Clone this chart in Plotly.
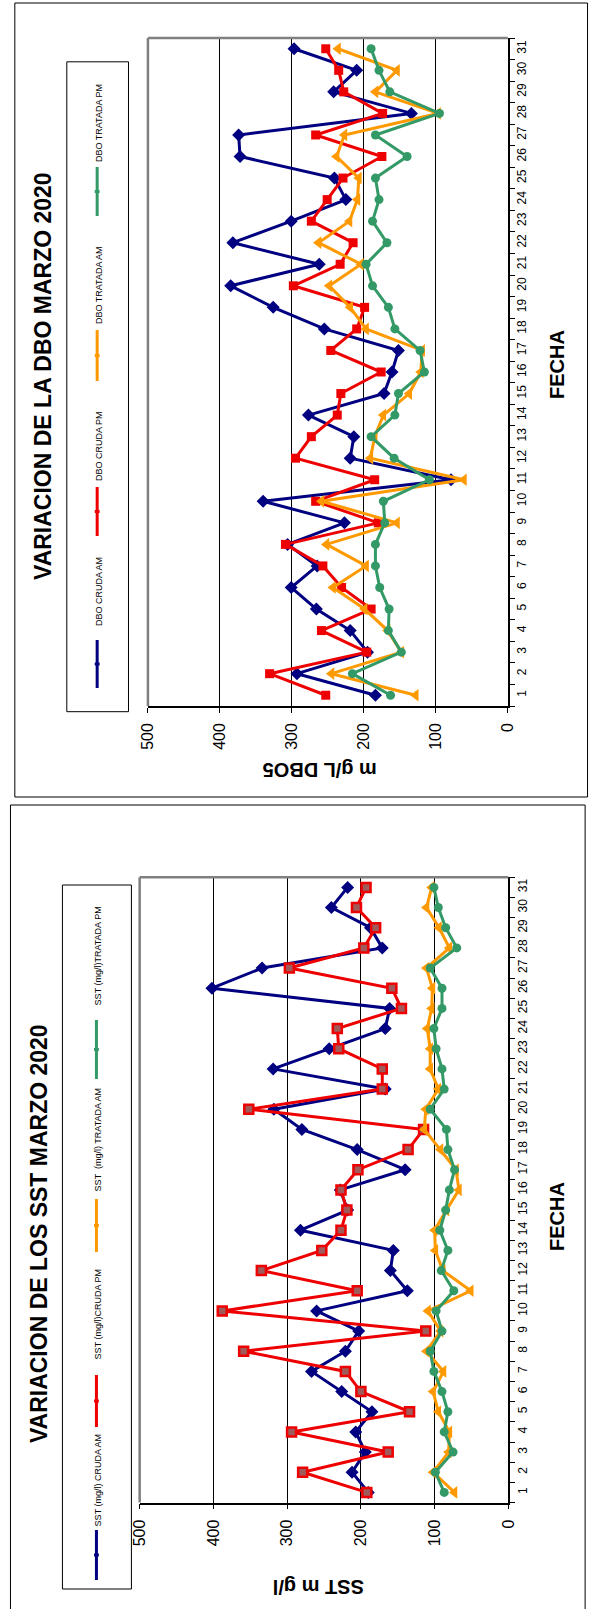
import plotly.graph_objects as go

# ---- data: day of month (categories) and daily measurements (mg/l) ----
dias = [str(d) for d in range(1, 32)]

dbo_cruda_am = [184, 293, 195, 219, 266, 301, 265, 306, 227, 340, 79, 219, 214, 277, 172, 161,
                152, 255, 326, 385, 262, 382, 301, 225, 241, 372, 374, 134, 242, 210, 297]
dbo_cruda_pm = [253, 331, 196, 259, 190, 231, 257, 309, 180, 267, 185, 295, 273, 237, 232, 176,
                246, 210, 199, 298, 233, 215, 273, 251, 229, 175, 267, 174, 228, 235, 253]
dbo_tratada_am = [128, 245, 148, 167, 199, 243, 197, 252, 154, 259, 61, 191, 185, 173, 137, 121,
                  119, 197, 219, 248, 204, 263, 220, 209, 207, 238, 227, 97, 184, 154, 236]
dbo_tratada_pm = [163, 216, 148, 166, 165, 178, 184, 184, 171, 173, 109, 158, 190, 157, 152, 116,
                  122, 157, 166, 188, 197, 168, 188, 179, 184, 140, 184, 95, 164, 179, 190]

sst_cruda_am = [190, 212, 194, 207, 185, 226, 267, 221, 203, 260, 137, 160, 156, 282, 218, 228,
                140, 205, 280, 318, 167, 319, 243, 167, 161, 402, 334, 171, 187, 240, 218]
sst_cruda_pm = [192, 279, 163, 294, 134, 200, 221, 359, 112, 388, 205, 335, 253, 227, 219, 227,
                204, 136, 115, 352, 171, 171, 230, 232, 145, 158, 297, 196, 180, 206, 193]
sst_tratada_am = [73, 102, 81, 80, 95, 102, 88, 111, 92, 109, 51, 89, 99, 100, 84, 67,
                  71, 92, 114, 112, 95, 106, 106, 110, 104, 103, 111, 80, 94, 111, 104]
sst_tratada_pm = [87, 99, 75, 87, 82, 90, 101, 106, 90, 98, 74, 91, 82, 93, 85, 80,
                  73, 82, 84, 106, 87, 90, 98, 101, 90, 90, 106, 70, 85, 95, 101]

valor_ticks = [0, 100, 200, 300, 400, 500]

dbo_nombres = ["DBO CRUDA AM", "DBO CRUDA PM", "DBO TRATADA AM", "DBO TRATADA PM"]
sst_nombres = ["SST (mg/l) CRUDA AM", "SST (mg/l)CRUDA PM", "SST  (mg/l) TRATADA AM", "SST (mg/l)TRATADA PM"]

NAVY, RED, ORANGE, GREEN = "#000080", "#EE0000", "#FF9900", "#339966"
colores = [NAVY, RED, ORANGE, GREEN]
simbolos = ["diamond", "square", "triangle-left", "circle"]
tamanos = [10, 9, 11, 9]

W, H = 597, 1609


def px(x):
    return x / W


def py(y):
    return 1 - y / H


fig = go.Figure()

# ---- series (value on the horizontal axis, day on the vertical axis) ----
def add_series(values, name, k, xa, ya, square_fill=None):
    marker = dict(symbol=simbolos[k], size=tamanos[k], color=colores[k],
                  line=dict(width=0, color=colores[k]))
    if square_fill is not None and k == 1:
        marker = dict(symbol="square", size=9, color=square_fill, line=dict(width=2.5, color=RED))
    fig.add_trace(go.Scatter(x=values, y=dias, mode="lines+markers", name=name,
                             line=dict(color=colores[k], width=3), marker=marker,
                             xaxis=xa, yaxis=ya, showlegend=False, cliponaxis=False))


for k, serie in enumerate([dbo_cruda_am, dbo_cruda_pm, dbo_tratada_am, dbo_tratada_pm]):
    add_series(serie, dbo_nombres[k], k, "x", "y")
for k, serie in enumerate([sst_cruda_am, sst_cruda_pm, sst_tratada_am, sst_tratada_pm]):
    add_series(serie, sst_nombres[k], k, "x2", "y2", square_fill="#A05A5A")

NARROW = "Liberation Sans Narrow, Arial Narrow, Liberation Sans, Arial, sans-serif"
SANS = "Liberation Sans, Arial, sans-serif"

def value_axis(domain, anchor):
    return dict(domain=domain, anchor=anchor, range=[500, 0], tickvals=valor_ticks,
                tickangle=-90, ticks="outside", ticklen=5, tickcolor="black", tickwidth=1,
                tickfont=dict(family=NARROW, size=16, color="black"), ticklabelstandoff=4,
                showgrid=True, gridcolor="black", gridwidth=1, zeroline=False,
                showline=True, linecolor="black", linewidth=1.5, fixedrange=True)


def day_axis(domain, anchor):
    return dict(domain=domain, anchor=anchor, type="category", categoryorder="array",
                categoryarray=dias, range=[-0.5, 30.5], side="right", tickson="boundaries",
                ticks="outside", ticklen=5, tickcolor="black", tickwidth=1, tickangle=-90,
                tickfont=dict(family=NARROW, size=12, color="black"), ticklabelstandoff=2,
                showgrid=False, zeroline=False, showline=True, linecolor="black",
                linewidth=1.5, fixedrange=True)


top_x = [px(143), px(513.5)]
top_y = [py(706), py(38)]
bot_x = [px(134.5), px(514)]
bot_y = [py(1502.5), py(877.3)]

shapes = []
annotations = []

# panel frames
shapes.append(dict(type="rect", xref="paper", yref="paper", x0=px(6), x1=px(595.5), y0=py(797), y1=py(3),
                   line=dict(color="black", width=1)))
shapes.append(dict(type="rect", xref="paper", yref="paper", x0=px(1.5), x1=px(593), y0=py(1612), y1=py(805),
                   line=dict(color="black", width=1)))

# plot-area borders (grey frame on the free sides)
for xd, yd in [(top_x, top_y), (bot_x, bot_y)]:
    shapes.append(dict(type="line", xref="paper", yref="paper", x0=xd[0], x1=xd[0], y0=yd[0], y1=yd[1],
                       line=dict(color="#808080", width=2.5), layer="above"))
    shapes.append(dict(type="line", xref="paper", yref="paper", x0=xd[0], x1=xd[1], y0=yd[1], y1=yd[1],
                       line=dict(color="#808080", width=2.5), layer="above"))


def text(x, y, s, size, angle, bold=False, family=SANS):
    annotations.append(dict(x=px(x), y=py(y), xref="paper", yref="paper", text=f"<b>{s}</b>" if bold else s,
                            showarrow=False, textangle=angle, xanchor="center", yanchor="middle",
                            font=dict(family=family, size=size, color="black")))


# titles and axis titles
text(35, 376, "VARIACION DE LA DBO MARZO 2020", 23, -90, bold=True)
text(564, 364, "FECHA", 20, -90, bold=True)
text(320, 770, "m g/L DBO5", 20, 180, bold=True)

text(31, 1234, "VARIACION DE LOS SST MARZO 2020", 23, -90, bold=True)
text(564, 1216, "FECHA", 20, -90, bold=True)
text(318, 1587, "SST m g/l", 20, 180, bold=True)

# legends (drawn as rotated rows)
def legend(box, entries, names):
    x0, x1, y0, y1 = box
    shapes.append(dict(type="rect", xref="paper", yref="paper", x0=px(x0), x1=px(x1), y0=py(y1), y1=py(y0),
                       line=dict(color="black", width=1)))
    lx = (x0 + x1) / 2 - 0.5
    for k, (ly0, ly1, ty) in enumerate(entries):
        shapes.append(dict(type="line", xref="paper", yref="paper", x0=px(lx), x1=px(lx), y0=py(ly1), y1=py(ly0),
                           line=dict(color=colores[k], width=3)))
        ym = (ly0 + ly1) / 2
        shapes.append(dict(type="rect", xref="paper", yref="paper", x0=px(lx - 2.5), x1=px(lx + 2.5),
                           y0=py(ym + 1.5), y1=py(ym - 1.5), line=dict(width=0), fillcolor=colores[k]))
        text(lx + 2, ty, names[k], 9, -90, family=NARROW)


legend((59.5, 123, 61.8, 711.7),
       [(640, 688, 592), (487, 536, 446), (330, 381, 285), (167, 216, 123)], dbo_nombres)
legend((55, 126, 885, 1589),
       [(1530, 1580, 1480), (1375, 1427, 1314), (1199, 1252, 1140), (1020, 1079, 956)], sst_nombres)

fig.update_layout(
    width=W, height=H, margin=dict(l=0, r=0, t=0, b=0),
    paper_bgcolor="white", plot_bgcolor="white", showlegend=False,
    xaxis=value_axis(top_x, "y"), yaxis=day_axis(top_y, "x"),
    xaxis2=value_axis(bot_x, "y2"), yaxis2=day_axis(bot_y, "x2"),
    shapes=shapes, annotations=annotations,
)

fig.write_html("out.html")
